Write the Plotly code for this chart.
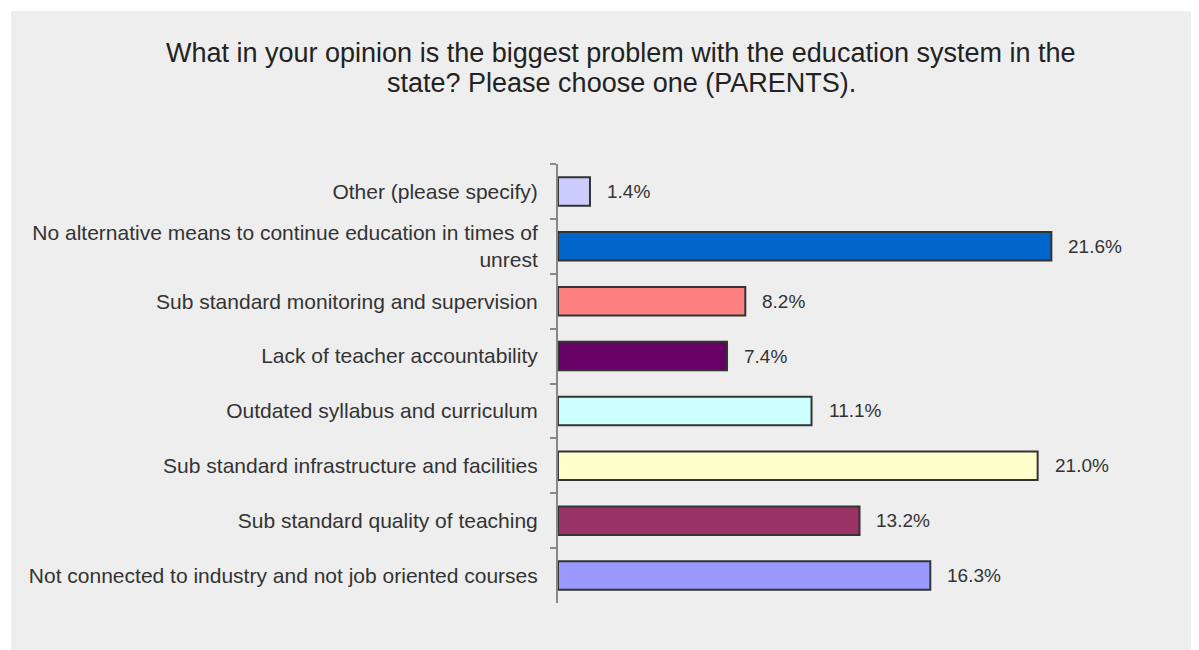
import plotly.graph_objects as go

categories = [
    "Other (please specify)",
    "No alternative means to continue education in times of<br>unrest",
    "Sub standard monitoring and supervision",
    "Lack of teacher accountability",
    "Outdated syllabus and curriculum",
    "Sub standard infrastructure and facilities",
    "Sub standard quality of teaching",
    "Not connected to industry and not job oriented courses",
]
values = [1.4, 21.6, 8.2, 7.4, 11.1, 21.0, 13.2, 16.3]
value_labels = ["1.4%", "21.6%", "8.2%", "7.4%", "11.1%", "21.0%", "13.2%", "16.3%"]
colors = ["#CCCCFF", "#0066CC", "#FF8080", "#660066", "#CCFFFF", "#FFFFCC", "#993366", "#9999FF"]

title_lines = [
    "What in your opinion is the biggest problem with the education system in the",
    "state? Please choose one (PARENTS).",
]

FONT = "Liberation Sans, Arial, sans-serif"
W, H = 1199, 650
L, R, T, B = 550, 78, 156, 55
pw = W - L - R
ph = H - T - B

fig = go.Figure()
fig.add_trace(go.Bar(
    x=values, y=categories, orientation="h",
    marker=dict(color=colors, line=dict(color="#333333", width=2)),
    hoverinfo="skip",
))

for v, c, t in zip(values, categories, value_labels):
    fig.add_annotation(x=v, y=c, text=t, xanchor="left", showarrow=False, xshift=15,
                       font=dict(family=FONT, size=19, color="#333333"))

# title lines (pixel positions from top of figure)
for line, ymid in zip(title_lines, [45, 75]):
    fig.add_annotation(text=line, xref="paper", yref="paper",
                       x=(613 - L) / pw, y=(T + ph - ymid) / ph,
                       xanchor="center", yanchor="middle", showarrow=False,
                       font=dict(family=FONT, size=27, color="#222222"))

fig.add_shape(type="rect", xref="paper", yref="paper",
              x0=(3 - L) / pw, x1=(W + 20 - L) / pw,
              y0=(T + ph - H - 20) / ph, y1=(T + ph - 3) / ph,
              fillcolor="#EEEEEE", line=dict(width=0), layer="below")

fig.update_layout(
    width=W, height=H,
    margin=dict(l=L, r=R, t=T, b=B, autoexpand=False),
    paper_bgcolor="white",
    plot_bgcolor="rgba(0,0,0,0)",
    showlegend=False,
    bargap=0.48,
    font=dict(family=FONT, color="#333333"),
)
fig.update_xaxes(range=[0, 25], visible=False, fixedrange=True)
fig.update_yaxes(autorange="reversed", showline=True, linecolor="#888888", linewidth=2,
                 ticks="outside", ticklen=6, tickcolor="#888888", tickwidth=2,
                 tickson="boundaries", showgrid=False, zeroline=False,
                 ticklabelstandoff=14, fixedrange=True,
                 tickfont=dict(family=FONT, size=21, color="#333333"))

fig.write_html("out.html")
